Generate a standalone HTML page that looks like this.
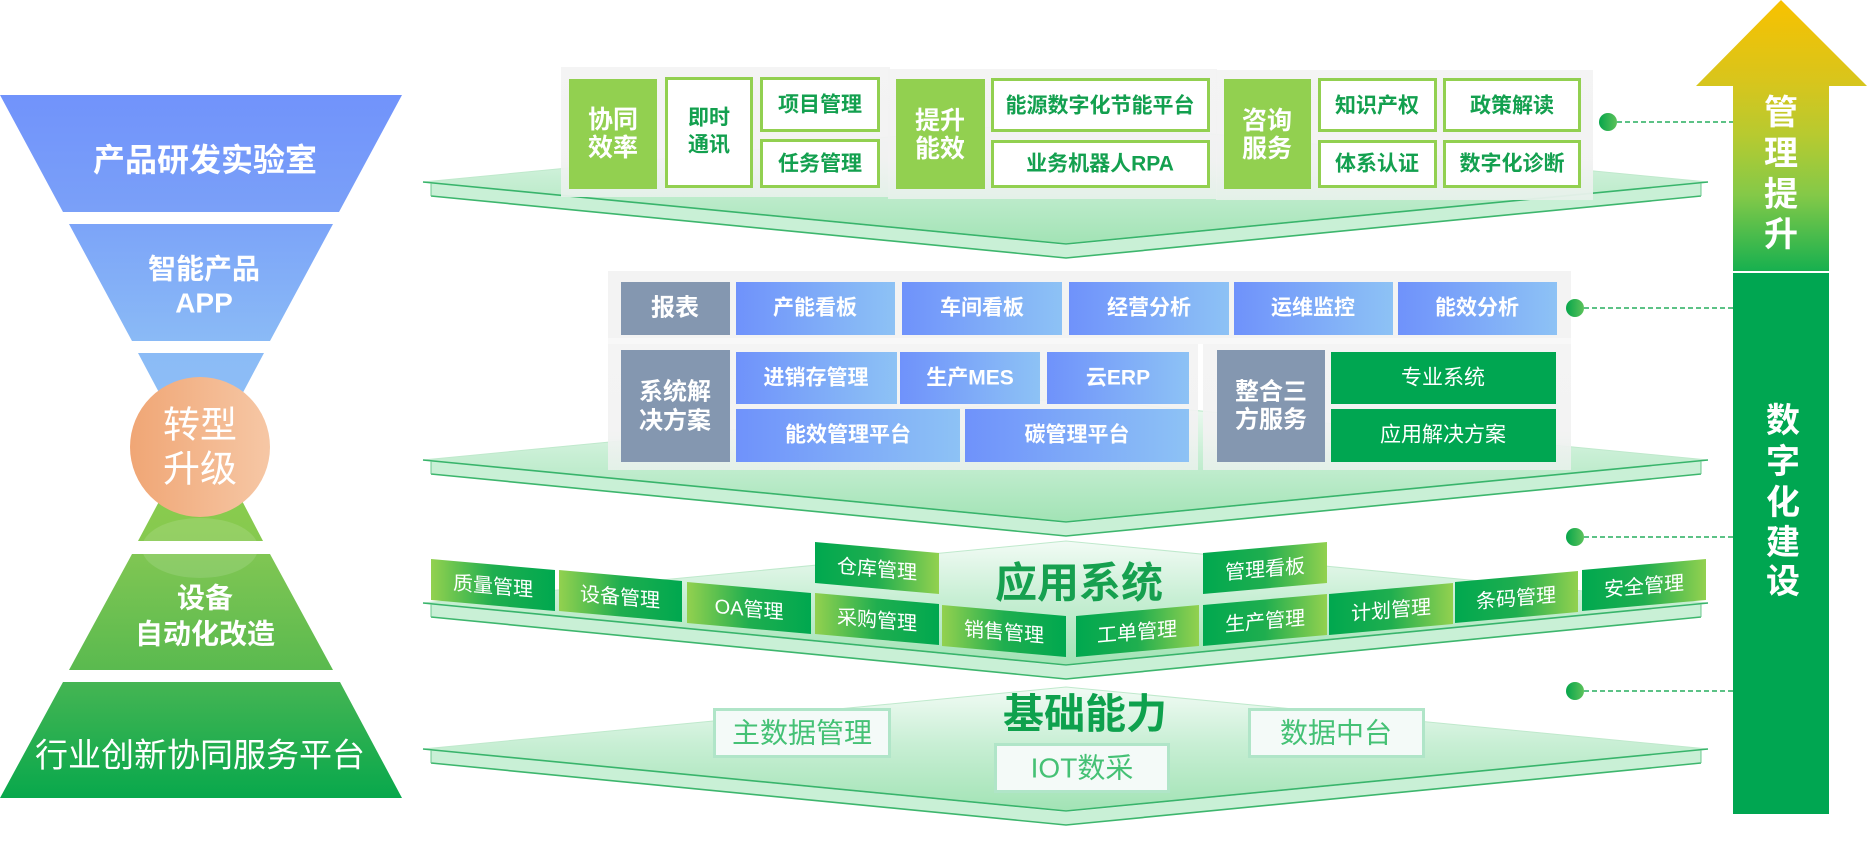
<!DOCTYPE html>
<html><head><meta charset="utf-8">
<style>
html,body{margin:0;padding:0;background:#fff;}
body{width:1867px;height:848px;overflow:hidden;}
svg{display:block;}
text{font-family:"Liberation Sans","Noto Sans CJK SC",sans-serif;}
.b{font-weight:700;}
</style></head><body>
<svg width="1867" height="848" viewBox="0 0 1867 848" xmlns="http://www.w3.org/2000/svg">
<defs>
 <linearGradient id="f1" x1="0" y1="0" x2="0" y2="1"><stop offset="0" stop-color="#7193fb"/><stop offset="1" stop-color="#7aa0f8"/></linearGradient>
 <linearGradient id="f2" x1="0" y1="0" x2="0" y2="1"><stop offset="0" stop-color="#7ca4f8"/><stop offset="1" stop-color="#8abaf6"/></linearGradient>
 <linearGradient id="f3" x1="0" y1="0" x2="0" y2="1"><stop offset="0" stop-color="#8bbbf6"/><stop offset="1" stop-color="#8ec0f5"/></linearGradient>
 <linearGradient id="fg" x1="0" y1="0" x2="0" y2="1"><stop offset="0" stop-color="#8dcf4d"/><stop offset="1" stop-color="#86c94f"/></linearGradient>
 <linearGradient id="f4" x1="0" y1="0" x2="0" y2="1"><stop offset="0" stop-color="#80c653"/><stop offset="1" stop-color="#5aba4f"/></linearGradient>
 <linearGradient id="f5" x1="0" y1="0" x2="0" y2="1"><stop offset="0" stop-color="#45b553"/><stop offset="1" stop-color="#08a84c"/></linearGradient>
 <linearGradient id="cir" x1="0" y1="0" x2="1" y2="0"><stop offset="0" stop-color="#f0a675"/><stop offset="1" stop-color="#f6c7a5"/></linearGradient>
 <linearGradient id="arr" gradientUnits="userSpaceOnUse" x1="0" y1="0" x2="0" y2="271"><stop offset="0" stop-color="#f8c100"/><stop offset="0.3" stop-color="#d8c51c"/><stop offset="0.5" stop-color="#b7ca30"/><stop offset="0.72" stop-color="#84c948"/><stop offset="1" stop-color="#17b04f"/></linearGradient>
 <linearGradient id="pt" gradientUnits="userSpaceOnUse" x1="0" y1="-62" x2="0" y2="62"><stop offset="0" stop-color="#f2fbf5"/><stop offset="0.45" stop-color="#c9efd5"/><stop offset="1" stop-color="#a2e3b5"/></linearGradient>
 <linearGradient id="bl" x1="0" y1="0" x2="1" y2="0"><stop offset="0" stop-color="#6f92fb"/><stop offset="1" stop-color="#8dc2f5"/></linearGradient>
 <linearGradient id="gL" x1="0" y1="0" x2="1" y2="0"><stop offset="0" stop-color="#93d14f"/><stop offset="0.5" stop-color="#1fae4f"/><stop offset="1" stop-color="#00a84f"/></linearGradient>
 <linearGradient id="gR" x1="0" y1="0" x2="1" y2="0"><stop offset="0" stop-color="#00a84f"/><stop offset="0.5" stop-color="#1fae4f"/><stop offset="1" stop-color="#93d14f"/></linearGradient>
 <linearGradient id="dot" x1="0" y1="0" x2="1" y2="0"><stop offset="0" stop-color="#06a54b"/><stop offset="1" stop-color="#5cc25a"/></linearGradient>
 <linearGradient id="pan" x1="0" y1="0" x2="0" y2="1"><stop offset="0" stop-color="#f3f3f3"/><stop offset="0.7" stop-color="#f2f2f2"/><stop offset="1" stop-color="#e6f1ea"/></linearGradient>
 <g id="pl">
  <polygon points="423,0 1066,-62 1708,0 1066,62" fill="url(#pt)"/>
  <polyline points="423,0 1066,-62 1708,0" fill="none" stroke="#bfe9cc" stroke-width="1"/>
  <polygon points="431,1 1066,63 1701,1 1701,14 1066,76 431,14" fill="#c9f0d6"/>
  <polyline points="423,0 1066,62 1708,0" fill="none" stroke="#38b46b" stroke-width="1.6"/>
  <polyline points="431,14 1066,76 1701,14" fill="none" stroke="#3db66d" stroke-width="1.6"/>
  <line x1="431" y1="1" x2="431" y2="14" stroke="#6cc88f"/>
  <line x1="1701" y1="1" x2="1701" y2="14" stroke="#6cc88f"/>
 </g>
</defs>

<!-- ===== Funnel ===== -->
<polygon points="0,95 402,95 339,212 63,212" fill="url(#f1)"/>
<polygon points="69,224 333,224 270,341 132,341" fill="url(#f2)"/>
<polygon points="138,353 264,353 214,447 188,447" fill="url(#f3)"/>
<polygon points="188,447 214,447 263,541 138,541" fill="url(#fg)"/>
<polygon points="132,554 270,554 333,670 69,670" fill="url(#f4)"/>
<polygon points="63,682 340,682 402,798 0,798" fill="url(#f5)"/>
<ellipse cx="200" cy="548" rx="58" ry="30" fill="#ffffff" opacity="0.12"/>
<circle cx="200" cy="447" r="70" fill="url(#cir)"/>

<text class="b" x="205" y="160" font-size="32" fill="#fff" text-anchor="middle" dominant-baseline="central">产品研发实验室</text>
<text class="b" x="204" y="269" font-size="28" fill="#fff" text-anchor="middle" dominant-baseline="central">智能产品</text>
<text class="b" x="204" y="303" font-size="28" fill="#fff" text-anchor="middle" dominant-baseline="central">APP</text>
<text x="200" y="425" font-size="37" fill="#fff" text-anchor="middle" dominant-baseline="central">转型</text>
<text x="200" y="469" font-size="37" fill="#fff" text-anchor="middle" dominant-baseline="central">升级</text>
<text class="b" x="205" y="598" font-size="28" fill="#fff" text-anchor="middle" dominant-baseline="central">设备</text>
<text class="b" x="205" y="634" font-size="28" fill="#fff" text-anchor="middle" dominant-baseline="central">自动化改造</text>
<text x="200" y="755" font-size="33" fill="#fff" text-anchor="middle" dominant-baseline="central">行业创新协同服务平台</text>

<!-- ===== Plate 1 ===== -->
<use href="#pl" transform="translate(0,182)"/>
<rect x="561" y="67" width="329" height="130" fill="url(#pan)" opacity="0.95"/>
<rect x="888" y="69" width="329" height="130" fill="url(#pan)" opacity="0.95"/>
<rect x="1216" y="70" width="377" height="130" fill="url(#pan)" opacity="0.95"/>

<rect x="569" y="79" width="88" height="110" fill="#92d050"/>
<text class="b" x="613" y="120" font-size="25" fill="#fff" text-anchor="middle" dominant-baseline="central">协同</text>
<text class="b" x="613" y="148" font-size="25" fill="#fff" text-anchor="middle" dominant-baseline="central">效率</text>
<rect x="666.5" y="78.5" width="85" height="108" fill="#fff" stroke="#92d050" stroke-width="3"/>
<text class="b" x="709" y="118" font-size="21" fill="#13a04f" text-anchor="middle" dominant-baseline="central">即时</text>
<text class="b" x="709" y="145" font-size="21" fill="#13a04f" text-anchor="middle" dominant-baseline="central">通讯</text>
<rect x="761.5" y="78.5" width="117" height="52" fill="#fff" stroke="#92d050" stroke-width="3"/>
<text class="b" x="820" y="105" font-size="21" fill="#13a04f" text-anchor="middle" dominant-baseline="central">项目管理</text>
<rect x="761.5" y="140.5" width="117" height="46" fill="#fff" stroke="#92d050" stroke-width="3"/>
<text class="b" x="820" y="164" font-size="21" fill="#13a04f" text-anchor="middle" dominant-baseline="central">任务管理</text>

<rect x="896" y="79" width="89" height="110" fill="#92d050"/>
<text class="b" x="940" y="121" font-size="25" fill="#fff" text-anchor="middle" dominant-baseline="central">提升</text>
<text class="b" x="940" y="149" font-size="25" fill="#fff" text-anchor="middle" dominant-baseline="central">能效</text>
<rect x="992.5" y="79.5" width="216" height="51" fill="#fff" stroke="#92d050" stroke-width="3"/>
<text class="b" x="1100" y="106" font-size="21" fill="#13a04f" text-anchor="middle" dominant-baseline="central">能源数字化节能平台</text>
<rect x="992.5" y="141.5" width="216" height="45" fill="#fff" stroke="#92d050" stroke-width="3"/>
<text class="b" x="1100" y="164" font-size="21" fill="#13a04f" text-anchor="middle" dominant-baseline="central">业务机器人RPA</text>

<rect x="1224" y="79" width="87" height="110" fill="#92d050"/>
<text class="b" x="1267" y="121" font-size="25" fill="#fff" text-anchor="middle" dominant-baseline="central">咨询</text>
<text class="b" x="1267" y="149" font-size="25" fill="#fff" text-anchor="middle" dominant-baseline="central">服务</text>
<rect x="1319.5" y="79.5" width="116" height="51" fill="#fff" stroke="#92d050" stroke-width="3"/>
<text class="b" x="1377" y="106" font-size="21" fill="#13a04f" text-anchor="middle" dominant-baseline="central">知识产权</text>
<rect x="1319.5" y="141.5" width="116" height="45" fill="#fff" stroke="#92d050" stroke-width="3"/>
<text class="b" x="1377" y="164" font-size="21" fill="#13a04f" text-anchor="middle" dominant-baseline="central">体系认证</text>
<rect x="1444.5" y="79.5" width="135" height="51" fill="#fff" stroke="#92d050" stroke-width="3"/>
<text class="b" x="1512" y="106" font-size="21" fill="#13a04f" text-anchor="middle" dominant-baseline="central">政策解读</text>
<rect x="1444.5" y="141.5" width="135" height="45" fill="#fff" stroke="#92d050" stroke-width="3"/>
<text class="b" x="1512" y="164" font-size="21" fill="#13a04f" text-anchor="middle" dominant-baseline="central">数字化诊断</text>

<!-- ===== Plate 2 ===== -->
<use href="#pl" transform="translate(0,460)"/>
<rect x="608" y="271" width="963" height="70" fill="#f3f3f3" opacity="0.96"/>
<rect x="608" y="340" width="590" height="130" fill="url(#pan)" opacity="0.93"/>
<rect x="1203" y="340" width="368" height="130" fill="url(#pan)" opacity="0.93"/>
<rect x="608" y="338" width="963" height="6" fill="#f8f8f8"/>

<rect x="621" y="282" width="109" height="53" fill="#8497b0"/>
<text class="b" x="675" y="308" font-size="24" fill="#fff" text-anchor="middle" dominant-baseline="central">报表</text>
<rect x="736" y="282" width="159" height="53" fill="url(#bl)"/>
<text class="b" x="815" y="308" font-size="21" fill="#fff" text-anchor="middle" dominant-baseline="central">产能看板</text>
<rect x="902" y="282" width="160" height="53" fill="url(#bl)"/>
<text class="b" x="982" y="308" font-size="21" fill="#fff" text-anchor="middle" dominant-baseline="central">车间看板</text>
<rect x="1069" y="282" width="160" height="53" fill="url(#bl)"/>
<text class="b" x="1149" y="308" font-size="21" fill="#fff" text-anchor="middle" dominant-baseline="central">经营分析</text>
<rect x="1234" y="282" width="159" height="53" fill="url(#bl)"/>
<text class="b" x="1313" y="308" font-size="21" fill="#fff" text-anchor="middle" dominant-baseline="central">运维监控</text>
<rect x="1398" y="282" width="159" height="53" fill="url(#bl)"/>
<text class="b" x="1477" y="308" font-size="21" fill="#fff" text-anchor="middle" dominant-baseline="central">能效分析</text>

<rect x="621" y="350" width="109" height="112" fill="#8497b0"/>
<text class="b" x="675" y="392" font-size="24" fill="#fff" text-anchor="middle" dominant-baseline="central">系统解</text>
<text class="b" x="675" y="421" font-size="24" fill="#fff" text-anchor="middle" dominant-baseline="central">决方案</text>
<rect x="736" y="352" width="161" height="52" fill="url(#bl)"/>
<text class="b" x="816" y="378" font-size="21" fill="#fff" text-anchor="middle" dominant-baseline="central">进销存管理</text>
<rect x="900" y="352" width="140" height="52" fill="url(#bl)"/>
<text class="b" x="970" y="378" font-size="21" fill="#fff" text-anchor="middle" dominant-baseline="central">生产MES</text>
<rect x="1047" y="352" width="142" height="52" fill="url(#bl)"/>
<text class="b" x="1118" y="378" font-size="21" fill="#fff" text-anchor="middle" dominant-baseline="central">云ERP</text>
<rect x="736" y="409" width="224" height="53" fill="url(#bl)"/>
<text class="b" x="848" y="435" font-size="21" fill="#fff" text-anchor="middle" dominant-baseline="central">能效管理平台</text>
<rect x="965" y="409" width="224" height="53" fill="url(#bl)"/>
<text class="b" x="1077" y="435" font-size="21" fill="#fff" text-anchor="middle" dominant-baseline="central">碳管理平台</text>

<rect x="1217" y="350" width="108" height="112" fill="#8497b0"/>
<text class="b" x="1271" y="392" font-size="24" fill="#fff" text-anchor="middle" dominant-baseline="central">整合三</text>
<text class="b" x="1271" y="420" font-size="24" fill="#fff" text-anchor="middle" dominant-baseline="central">方服务</text>
<rect x="1331" y="352" width="225" height="52" fill="#00a651"/>
<text x="1443" y="378" font-size="21" fill="#fff" text-anchor="middle" dominant-baseline="central">专业系统</text>
<rect x="1331" y="409" width="225" height="53" fill="#00a651"/>
<text x="1443" y="435" font-size="21" fill="#fff" text-anchor="middle" dominant-baseline="central">应用解决方案</text>

<!-- ===== Plate 3 ===== -->
<use href="#pl" transform="translate(0,603)"/>
<text class="b" x="1079" y="583" font-size="42" fill="#16a04f" text-anchor="middle" dominant-baseline="central">应用系统</text>

<g font-size="20" fill="#fff">
<polygon points="815,542 939,553 939,594 815,583" fill="url(#gR)"/>
<text transform="translate(877,570) skewY(5.07)" text-anchor="middle" dominant-baseline="central" fill="#fff">仓库管理</text>
<polygon points="1203,553 1327,542 1327,583 1203,594" fill="url(#gR)"/>
<text transform="translate(1265,570) skewY(-5.07)" text-anchor="middle" dominant-baseline="central" fill="#fff">管理看板</text>

<polygon points="431,559 555,570 555,611 431,600" fill="url(#gL)"/>
<text transform="translate(493,587) skewY(5.07)" text-anchor="middle" dominant-baseline="central" fill="#fff">质量管理</text>
<polygon points="559,570 682,581 682,622 559,611" fill="url(#gL)"/>
<text transform="translate(620,598) skewY(5.07)" text-anchor="middle" dominant-baseline="central" fill="#fff">设备管理</text>
<polygon points="687,582 811,593 811,634 687,623" fill="url(#gL)"/>
<text transform="translate(749,610) skewY(5.07)" text-anchor="middle" dominant-baseline="central" fill="#fff">OA管理</text>
<polygon points="815,593 939,604 939,645 815,634" fill="url(#gL)"/>
<text transform="translate(877,621) skewY(5.07)" text-anchor="middle" dominant-baseline="central" fill="#fff">采购管理</text>
<polygon points="942,605 1066,616 1066,657 942,646" fill="url(#gL)"/>
<text transform="translate(1004,633) skewY(5.07)" text-anchor="middle" dominant-baseline="central" fill="#fff">销售管理</text>

<polygon points="1076,616 1199,605 1199,646 1076,657" fill="url(#gR)"/>
<text transform="translate(1137,633) skewY(-5.07)" text-anchor="middle" dominant-baseline="central" fill="#fff">工单管理</text>
<polygon points="1203,605 1327,594 1327,635 1203,646" fill="url(#gR)"/>
<text transform="translate(1265,622) skewY(-5.07)" text-anchor="middle" dominant-baseline="central" fill="#fff">生产管理</text>
<polygon points="1329,594 1453,583 1453,624 1329,635" fill="url(#gR)"/>
<text transform="translate(1391,611) skewY(-5.07)" text-anchor="middle" dominant-baseline="central" fill="#fff">计划管理</text>
<polygon points="1455,582 1578,571 1578,612 1455,623" fill="url(#gR)"/>
<text transform="translate(1516,599) skewY(-5.07)" text-anchor="middle" dominant-baseline="central" fill="#fff">条码管理</text>
<polygon points="1582,570 1706,559 1706,600 1582,611" fill="url(#gR)"/>
<text transform="translate(1644,587) skewY(-5.07)" text-anchor="middle" dominant-baseline="central" fill="#fff">安全管理</text>
</g>

<!-- ===== Plate 4 ===== -->
<use href="#pl" transform="translate(0,749)"/>
<text class="b" x="1085" y="714" font-size="41" fill="#0ea14d" text-anchor="middle" dominant-baseline="central">基础能力</text>
<rect x="714.5" y="709.5" width="175" height="47" fill="#f4faf8" stroke="#b0e5c8" stroke-width="3"/>
<text x="802" y="733" font-size="28" fill="#45c175" text-anchor="middle" dominant-baseline="central">主数据管理</text>
<rect x="1249.5" y="709.5" width="174" height="47" fill="#f4faf8" stroke="#b0e5c8" stroke-width="3"/>
<text x="1336" y="733" font-size="28" fill="#45c175" text-anchor="middle" dominant-baseline="central">数据中台</text>
<rect x="995.5" y="744.5" width="173" height="47" fill="#f4faf8" stroke="#b0e5c8" stroke-width="3"/>
<text x="1082" y="768" font-size="28" fill="#45c175" text-anchor="middle" dominant-baseline="central">IOT数采</text>

<!-- ===== Dots & dashed lines ===== -->
<g stroke="#27ae5f" stroke-width="1.5" stroke-dasharray="5 3">
<line x1="1617" y1="122" x2="1733" y2="122"/>
<line x1="1584" y1="308" x2="1733" y2="308"/>
<line x1="1584" y1="537" x2="1733" y2="537"/>
<line x1="1584" y1="691" x2="1733" y2="691"/>
</g>
<circle cx="1608" cy="122" r="9" fill="url(#dot)"/>
<circle cx="1575" cy="308" r="9" fill="url(#dot)"/>
<circle cx="1575" cy="537" r="9" fill="url(#dot)"/>
<circle cx="1575" cy="691" r="9" fill="url(#dot)"/>

<!-- ===== Arrow ===== -->
<polygon points="1781,0 1867,86 1829,86 1829,271 1733,271 1733,86 1696,86" fill="url(#arr)"/>
<rect x="1733" y="273" width="96" height="541" fill="#00a651"/>
<g class="b" font-size="34" fill="#fff" text-anchor="middle">
<text x="1781" y="113" dominant-baseline="central">管</text>
<text x="1781" y="154" dominant-baseline="central">理</text>
<text x="1781" y="195" dominant-baseline="central">提</text>
<text x="1781" y="235" dominant-baseline="central">升</text>
<text x="1783" y="421" dominant-baseline="central">数</text>
<text x="1783" y="462" dominant-baseline="central">字</text>
<text x="1783" y="503" dominant-baseline="central">化</text>
<text x="1783" y="543" dominant-baseline="central">建</text>
<text x="1783" y="582" dominant-baseline="central">设</text>
</g>
</svg>
</body></html>
